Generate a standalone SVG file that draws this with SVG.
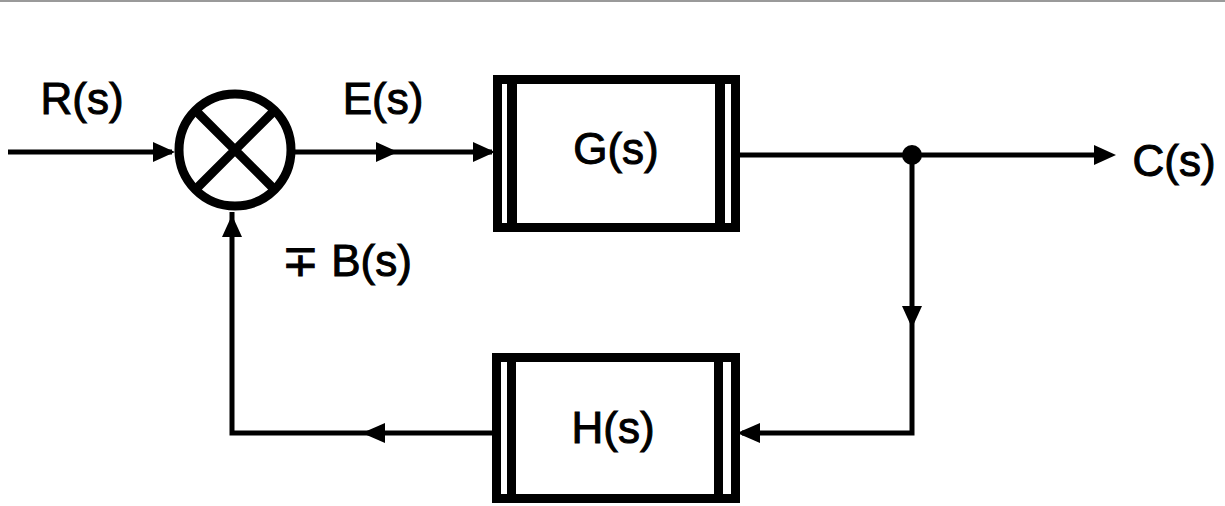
<svg xmlns="http://www.w3.org/2000/svg" width="1225" height="506" viewBox="0 0 1225 506">
<style>
.ln{fill:none;stroke:#000;stroke-width:5;stroke-linejoin:miter}
.ah{fill:#000}
.box{fill:#fff;stroke:#000;stroke-width:9}
.bar{fill:#000}
.t{font-family:"Liberation Sans",Arial,sans-serif;font-size:44px;fill:#000;stroke:#000;stroke-width:1}
</style>
<rect x="0" y="0" width="1225" height="506" fill="#fff"/>
<rect x="0" y="0" width="1225" height="2" fill="#9a9a9a"/>
<g id="connectors">
<path class="ln" d="M8,152 H172"/>
<polygon class="ah" points="175,152 153,142 153,162"/>
<path class="ln" d="M295,152 H492"/>
<polygon class="ah" points="398,152 376,142 376,162"/>
<polygon class="ah" points="495,152 473,142 473,162"/>
<path class="ln" d="M740,155 H1100"/>
<polygon class="ah" points="1116,155 1094,145 1094,165"/>
<path class="ln" d="M912,155 V433 H742"/>
<polygon class="ah" points="912,328 902,306 922,306"/>
<polygon class="ah" points="737,433 760,423 760,443"/>
<path class="ln" d="M492,433 H232 V212"/>
<polygon class="ah" points="362,433 385,423 385,443"/>
<polygon class="ah" points="232,215 222,237 242,237"/>
<circle cx="912" cy="155" r="10" fill="#000"/>
</g>
<g id="sum">
<circle cx="235" cy="150" r="56" fill="#fff" stroke="#000" stroke-width="9"/>
<path d="M197,112 L273,188 M273,112 L197,188" stroke="#000" stroke-width="9"/>
</g>
<g id="G">
<rect class="box" x="497.5" y="79.5" width="238" height="148"/>
<rect class="bar" x="507" y="80" width="10" height="147"/>
<rect class="bar" x="715" y="80" width="10" height="147"/>
<text class="t" x="616" y="164" text-anchor="middle">G(s)</text>
</g>
<g id="H">
<rect class="box" x="496.5" y="357.5" width="239" height="141"/>
<rect class="bar" x="507" y="358" width="9" height="140"/>
<rect class="bar" x="714" y="358" width="9" height="140"/>
<text class="t" x="613" y="443" text-anchor="middle">H(s)</text>
</g>
<g id="labels">
<text class="t" x="82" y="114" text-anchor="middle">R(s)</text>
<text class="t" x="383" y="114" text-anchor="middle">E(s)</text>
<text class="t" x="1174" y="176" text-anchor="middle">C(s)</text>
<text class="t" x="282" y="276" font-size="41">∓ B(s)<tspan/></text>
</g>
</svg>
